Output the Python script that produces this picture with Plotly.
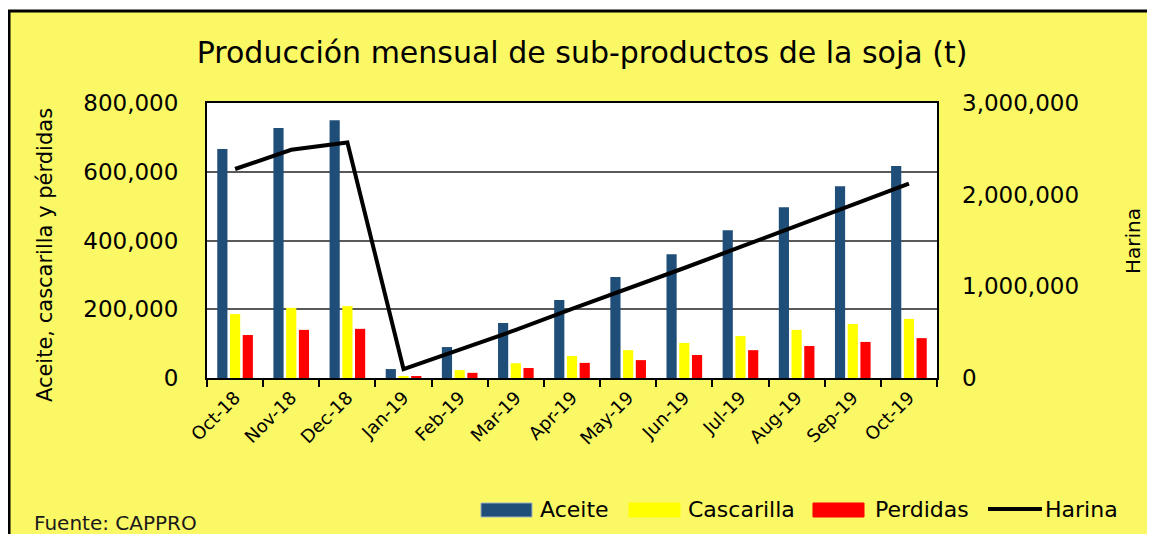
import plotly.graph_objects as go

# monthly output, tonnes
months = ["Oct-18", "Nov-18", "Dec-18", "Jan-19", "Feb-19", "Mar-19", "Apr-19",
          "May-19", "Jun-19", "Jul-19", "Aug-19", "Sep-19", "Oct-19"]
aceite = [666000, 727000, 750000, 26000, 90000, 160000, 227000,
          294000, 360000, 430000, 497000, 558000, 617000]
cascarilla = [186000, 204000, 209000, 5000, 23000, 43000, 64000,
              81000, 102000, 122000, 140000, 157000, 172000]
perdidas = [125000, 140000, 143000, 3000, 15000, 29000, 44000,
            52000, 67000, 81000, 93000, 105000, 116000]
harina = [2280000, 2490000, 2570000, 98000, 310000, 524000, 753000,
          971000, 1200000, 1430000, 1660000, 1890000, 2120000]

left_ticks = [0, 200000, 400000, 600000, 800000]
right_ticks = [0, 1000000, 2000000, 3000000]

BG = "#FAF865"
FONT = "DejaVu Sans"
colors = {"Aceite": "#1F4E79", "Cascarilla": "#FFFF00", "Perdidas": "#FF0000"}

fig = go.Figure()
for name, vals in [("Aceite", aceite), ("Cascarilla", cascarilla), ("Perdidas", perdidas)]:
    fig.add_trace(go.Bar(x=months, y=vals, name=name, marker_color=colors[name],
                         marker_line_width=0, showlegend=False))
fig.add_trace(go.Scatter(x=months, y=harina, name="Harina", mode="lines",
                         line=dict(color="black", width=4), yaxis="y2", showlegend=False))

# page frame: white strip on top, black border
fig.add_shape(type="rect", xref="paper", yref="paper", x0=-0.4, x1=1.4, y0=1.338, y1=1.6,
              fillcolor="white", line_width=0, layer="above")
fig.add_shape(type="rect", xref="paper", yref="paper", x0=-0.2712, x1=1.32, y0=-0.65, y1=1.3345,
              line=dict(color="black", width=3), layer="above")

# legend drawn by hand (wide swatches like the original)
legend_items = [("Aceite", 0.3753, 0.4452, 0.4534),
                ("Cascarilla", 0.5781, 0.6479, 0.6562),
                ("Perdidas", 0.8301, 0.9000, 0.9123)]
for name, x0, x1, tx in legend_items:
    fig.add_shape(type="rect", xref="paper", yref="paper", x0=x0, x1=x1, y0=-0.5055, y1=-0.4545,
                  fillcolor=colors[name], line=dict(color="#9DB3C8" if name == "Aceite" else colors[name], width=1))
    fig.add_annotation(text=name, xref="paper", yref="paper", x=tx, y=-0.478,
                       xanchor="left", yanchor="middle", showarrow=False,
                       font=dict(family=FONT, size=22, color="black"))
fig.add_shape(type="line", xref="paper", yref="paper", x0=1.0699, x1=1.1438, y0=-0.4764, y1=-0.4764,
              line=dict(color="black", width=4))
fig.add_annotation(text="Harina", xref="paper", yref="paper", x=1.1452, y=-0.478,
                   xanchor="left", yanchor="middle", showarrow=False,
                   font=dict(family=FONT, size=22, color="black"))

# axis titles
fig.add_annotation(text="Aceite, cascarilla y pérdidas", xref="paper", yref="paper",
                   x=-0.2219, y=0.447, textangle=-90, showarrow=False,
                   xanchor="center", yanchor="middle", font=dict(family=FONT, size=21))
fig.add_annotation(text="Harina", xref="paper", yref="paper",
                   x=1.2685, y=0.498, textangle=-90, showarrow=False,
                   xanchor="center", yanchor="middle", font=dict(family=FONT, size=20))

fig.add_annotation(text="Fuente: CAPPRO", xref="paper", yref="paper", x=-0.2397, y=-0.527,
                   xanchor="left", yanchor="middle", showarrow=False,
                   font=dict(family=FONT, size=20, color="#1a1a1a"))

fig.update_layout(
    width=1147, height=526,
    margin=dict(l=199, r=218, t=95, b=156),
    paper_bgcolor=BG, plot_bgcolor="white",
    font=dict(family=FONT, color="black"),
    title=dict(text="Producción mensual de sub-productos de la soja (t)",
               x=0.5005, xanchor="center", y=0.916, yanchor="middle",
               font=dict(family=FONT, size=30, color="black")),
    barmode="group", bargap=0.32, bargroupgap=0.2,
    xaxis=dict(type="category", tickangle=-45, tickson="boundaries", ticks="outside",
               ticklen=7, tickcolor="black", tickwidth=1.5,
               showline=True, linecolor="black", linewidth=2, mirror=True,
               tickfont=dict(family=FONT, size=18)),
    yaxis=dict(range=[0, 800000], tickvals=left_ticks, tickformat=",d",
               showgrid=True, gridcolor="#595959", gridwidth=1.5,
               showline=True, linecolor="black", linewidth=2, mirror=True,
               tickfont=dict(size=23), ticks="", ticklabelstandoff=22,
               zeroline=False),
    yaxis2=dict(range=[0, 3000000], tickvals=right_ticks, tickformat=",d",
                overlaying="y", side="right", showgrid=False, zeroline=False,
                tickfont=dict(size=23), ticks="", ticklabelstandoff=24),
)

fig.write_html("out.html")
